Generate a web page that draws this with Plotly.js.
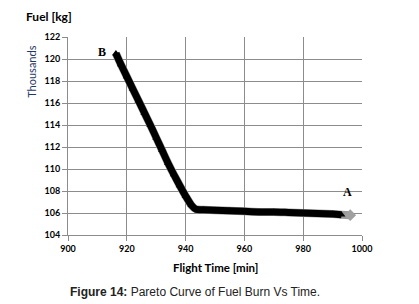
<!DOCTYPE html>
<html>
<head>
<meta charset="utf-8">
<script src="https://cdn.plot.ly/plotly-3.0.1.min.js"></script>
<style>
html,body{margin:0;padding:0;background:#fff;}
#chart{width:419px;height:304px;}
</style>
</head>
<body>
<div id="chart"></div>
<script>
// Flight time [min]
var flightTime = [916.3, 918, 920, 922, 924, 926, 928, 930, 932, 934, 936, 938, 940, 942, 943.5,
  946, 950, 955, 960, 965, 970, 975, 980, 985, 990, 993, 996];
// Fuel burn [thousands of kg]
var fuelThousands = [120.5, 119.5, 118.4, 117.3, 116.2, 115.1, 114.0, 112.85, 111.7, 110.55, 109.5, 108.5, 107.55, 106.7, 106.35,
  106.3, 106.25, 106.2, 106.15, 106.1, 106.1, 106.05, 106.0, 105.95, 105.9, 105.85, 105.8];
var xTicks = [900, 920, 940, 960, 980, 1000];
var yTicks = [104, 106, 108, 110, 112, 114, 116, 118, 120, 122];
var endLabels = [{t: 'A', x: 995, y: 107.9}, {t: 'B', x: 911.5, y: 120.6}];

var n = flightTime.length;
var traces = [
  {x: flightTime, y: fuelThousands, mode: 'lines', type: 'scatter',
   line: {color: '#9a9a9a', width: 8, shape: 'spline', smoothing: 0.6}, hoverinfo: 'skip'},
  {x: flightTime.slice(n - 1), y: fuelThousands.slice(n - 1), mode: 'markers', type: 'scatter',
   marker: {symbol: 'diamond', size: 9, color: '#a0a0a0'}},
  {x: flightTime.slice(0, n - 1), y: fuelThousands.slice(0, n - 1), mode: 'lines+markers', type: 'scatter',
   line: {color: '#000', width: 7, shape: 'spline', smoothing: 0.6},
   marker: {symbol: 'triangle-up', size: 7, color: '#000'}}
];

var annotations = endLabels.map(function (d) {
  return {x: d.x, y: d.y, xref: 'x', yref: 'y', text: '<b>' + d.t + '</b>', showarrow: false,
    font: {family: 'Liberation Serif, serif', size: 12, color: '#000'}};
});
annotations.push({xref: 'paper', yref: 'paper', x: -0.148, y: 1.106, xanchor: 'left', yanchor: 'middle',
  text: '<b>Fuel [kg]</b>', showarrow: false, font: {family: 'Lato, sans-serif', size: 12, color: '#000'}});
annotations.push({xref: 'paper', yref: 'paper', x: -0.124, y: 0.822, xanchor: 'center', yanchor: 'middle',
  text: 'Thousands', textangle: -90, showarrow: false, font: {family: 'Lato, sans-serif', size: 11, color: '#1f3864'}});
annotations.push({xref: 'paper', yref: 'paper', x: 0.5, y: -0.162, xanchor: 'center', yanchor: 'middle',
  text: '<b>Flight Time [min]</b>', showarrow: false, font: {family: 'Lato, sans-serif', size: 11.5, color: '#000'}});
annotations.push({xref: 'paper', yref: 'paper', x: 0.0, y: -0.29, xanchor: 'left', yanchor: 'middle',
  text: '<b>Figure 14:</b> Pareto Curve of Fuel Burn Vs Time.', showarrow: false,
  font: {family: 'Liberation Sans, Arial, sans-serif', size: 12, color: '#222'}});

var layout = {
  width: 419, height: 304,
  margin: {l: 68, r: 57, t: 37, b: 69, pad: 0},
  paper_bgcolor: '#fff', plot_bgcolor: '#fff',
  showlegend: false,
  xaxis: {range: [900, 1000], tickvals: xTicks, ticktext: xTicks.map(function (v) { return '<b>' + v + '</b>'; }),
    showgrid: true, gridcolor: '#8c8c8c', gridwidth: 1, zeroline: false,
    showline: true, linecolor: '#8c8c8c', linewidth: 1, ticks: 'outside', ticklen: 5, tickcolor: '#8c8c8c',
    tickfont: {family: 'Lato, sans-serif', size: 9, color: '#000'}},
  yaxis: {range: [104, 122], tickvals: yTicks, ticktext: yTicks.map(function (v) { return '<b>' + v + '</b>'; }),
    showgrid: true, gridcolor: '#8c8c8c', gridwidth: 1, zeroline: false,
    showline: true, linecolor: '#8c8c8c', linewidth: 1, ticks: 'outside', ticklen: 5, tickcolor: '#8c8c8c',
    tickfont: {family: 'Lato, sans-serif', size: 9, color: '#000'}},
  annotations: annotations
};

Plotly.newPlot('chart', traces, layout, {staticPlot: true, displayModeBar: false});
</script>
</body>
</html>
